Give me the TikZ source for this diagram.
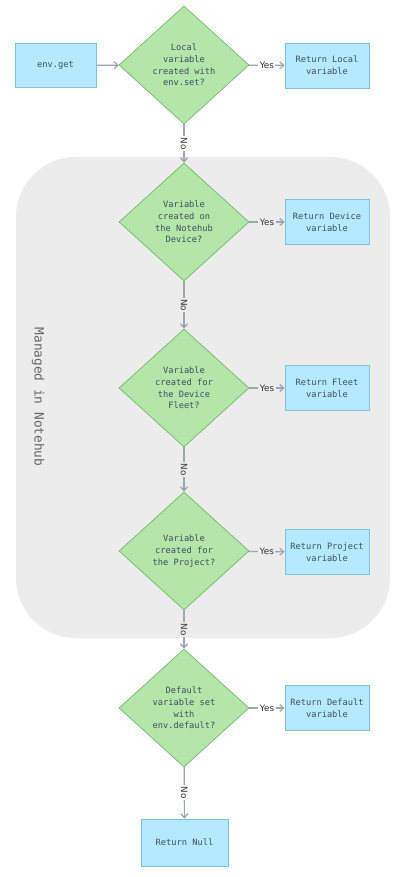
\documentclass[tikz,border=0pt]{standalone}
\usepackage{fontspec}
\setmainfont{DejaVu Sans}
\newfontfamily\codefont{DejaVu Sans Mono}
\usetikzlibrary{shapes.geometric,arrows.meta}
\definecolor{dfill}{HTML}{B3E6A8}
\definecolor{ddraw}{HTML}{74B86C}
\definecolor{bfill}{HTML}{B5E9FF}
\definecolor{bdraw}{HTML}{7FC3DB}
\definecolor{region}{HTML}{ECECEC}
\definecolor{arrowc}{HTML}{9AA6B2}
\definecolor{txt}{HTML}{3E4E5E}
\tikzset{
  decision/.style={diamond, draw=ddraw, fill=dfill, line width=0.7pt, inner sep=0pt,
    minimum width=130pt, minimum height=118pt, align=center, text=txt,
    font=\codefont\fontsize{8.7}{11.7}\selectfont},
  outbox/.style={rectangle, draw=bdraw, fill=bfill, line width=0.7pt, inner sep=0pt,
    minimum width=84pt, minimum height=45pt, align=center, text=txt,
    font=\codefont\fontsize{8.7}{11.7}\selectfont},
  flow/.style={draw=arrowc, line width=1.2pt, -{Straight Barb[length=4pt,width=7pt,line width=1.2pt]}},
  elabel/.style={font=\fontsize{8.8}{10}\selectfont, text=black!80, inner sep=1.5pt},
  yeslab/.style={elabel, fill=#1},
  nolab/.style={elabel, fill=#1, rotate=-90},
}
\begin{document}
\begin{tikzpicture}[x=1pt,y=-1pt]
\useasboundingbox[fill=white] (0,0) rectangle (400,877);
\fill[region, rounded corners=60pt] (16,157) rectangle (390,638);
\node[rotate=-90, text=black!60, font=\codefont\fontsize{12.8}{14}\selectfont] (managed) at (38,397) {Managed in Notehub};

\node[outbox, minimum width=81pt, minimum height=44pt] (get) at (55.5,65.5) {env.get};
\node[decision] (d1) at (184,65) {Local\\variable\\created with\\env.set?};
\node[outbox] (r1) at (327,65.5) {Return Local\\variable};

\node[decision] (d2) at (184,222) {Variable\\created on\\the Notehub\\Device?};
\node[outbox] (r2) at (327,222) {Return Device\\variable};

\node[decision] (d3) at (184,388) {Variable\\created for\\the Device\\Fleet?};
\node[outbox] (r3) at (327,388) {Return Fleet\\variable};

\node[decision] (d4) at (184,551) {Variable\\created for\\the Project?};
\node[outbox] (r4) at (327,552) {Return Project\\variable};

\node[decision] (d5) at (184,708) {Default\\variable set\\with\\env.default?};
\node[outbox] (r5) at (327,708) {Return Default\\variable};

\node[outbox, minimum width=87pt, minimum height=47pt] (null) at (184.5,842.5) {Return Null};

\draw[flow] (get) -- (d1);
\draw[flow] (d1) -- node[yeslab=white]{Yes} (r1);
\draw[flow] (d2) -- node[yeslab=region]{Yes} (r2);
\draw[flow] (d3) -- node[yeslab=region]{Yes} (r3);
\draw[flow] (d4) -- node[yeslab=region]{Yes} (r4);
\draw[flow] (d5) -- node[yeslab=white]{Yes} (r5);

\draw[flow] (d1) -- node[nolab=white]{No} (d2);
\draw[flow] (d2) -- node[nolab=region]{No} (d3);
\draw[flow] (d3) -- node[nolab=region]{No} (d4);
\draw[flow] (d4) -- node[nolab=region]{No} (d5);
\draw[flow] (d5) -- node[nolab=white]{No} (null);
\end{tikzpicture}
\end{document}
